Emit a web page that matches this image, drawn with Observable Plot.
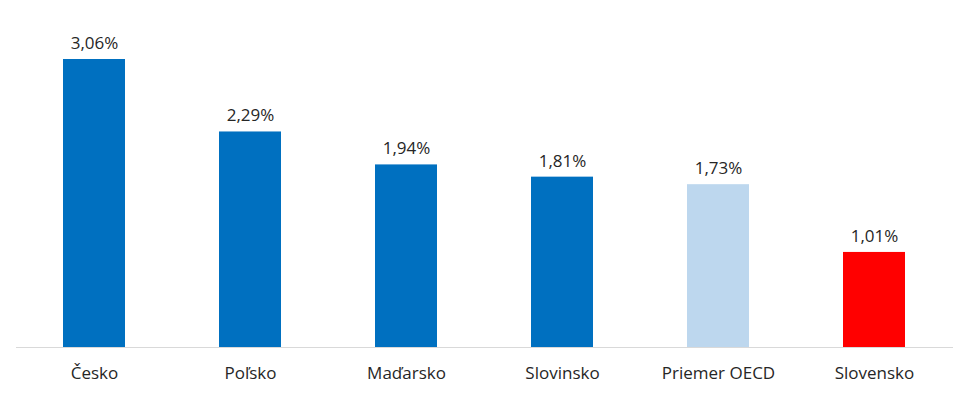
<!DOCTYPE html>
<html>
<head>
<meta charset="utf-8">
<script src="https://cdn.jsdelivr.net/npm/d3@7"></script>
<script src="https://cdn.jsdelivr.net/npm/@observablehq/plot@0.6"></script>
<style>
  html, body { margin: 0; padding: 0; background: #fff; }
</style>
</head>
<body>
<div id="chart"></div>
<script>
const countries = ["Česko", "Poľsko", "Maďarsko", "Slovinsko", "Priemer OECD", "Slovensko"];
const values = [3.06, 2.29, 1.94, 1.81, 1.73, 1.01];
const colors = ["#0070C0", "#0070C0", "#0070C0", "#0070C0", "#BDD7EE", "#FF0000"];

const data = countries.map((c, i) => ({country: c, value: values[i], color: colors[i]}));
const fmt = v => v.toFixed(2).replace(".", ",") + "%";

const chart = Plot.plot({
  width: 969,
  height: 394,
  marginLeft: 16,
  marginRight: 16,
  marginTop: 59,
  marginBottom: 47,
  style: {fontFamily: "'Open Sans', sans-serif", fontSize: "17px", color: "#262626", background: "#fff"},
  x: {domain: countries, paddingInner: 0.6, paddingOuter: 0.3, label: null},
  y: {domain: [0, 3.06], axis: null},
  marks: [
    Plot.barY(data, {x: "country", y: "value", fill: "color"}),
    Plot.ruleY([0], {stroke: "#d9d9d9", strokeWidth: 1}),
    Plot.text(data, {x: "country", y: "value", text: d => fmt(d.value), dy: -16, fontSize: 17, fill: "#262626"}),
    Plot.axisX({tickSize: 0, tickPadding: 19, fontSize: 17, fill: "#262626"})
  ]
});
document.getElementById("chart").appendChild(chart);
</script>
</body>
</html>
